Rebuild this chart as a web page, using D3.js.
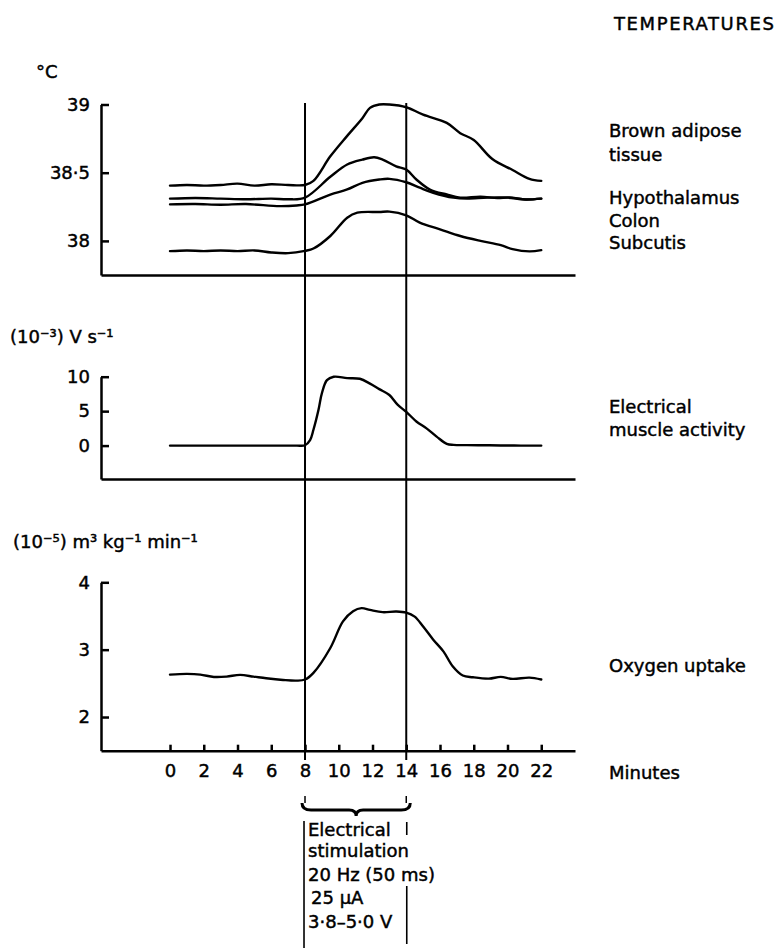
<!DOCTYPE html>
<html>
<head>
<meta charset="utf-8">
<script src="https://cdn.jsdelivr.net/npm/d3@7"></script>
<style>
  body { margin: 0; background: #fff; }
  text { font-family: "DejaVu Sans", sans-serif; font-size: 18px; fill: #000; stroke: #000; stroke-width: 0.45px; }
</style>
</head>
<body>
<div id="chart"></div>
<script>
// minutes, value pairs
var brownAdipose = [[0,38.405],[1,38.41],[2,38.405],[3,38.41],[4,38.42],[5,38.405],[6,38.415],[7,38.41],[8,38.41],[8.5,38.44],[9.5,38.62],[10.5,38.77],[11.4,38.9],[11.85,38.975],[12.4,39.0],[13,39.0],[14,38.98],[15,38.925],[16.4,38.865],[17.2,38.79],[18,38.74],[19.1,38.6],[20.3,38.52],[21.3,38.455],[22,38.44]];
var hypothalamus = [[0,38.31],[1.5,38.315],[3,38.31],[4.5,38.305],[6,38.31],[7,38.305],[8,38.317],[9.5,38.47],[10.5,38.56],[11.4,38.596],[12.1,38.613],[12.6,38.596],[13.4,38.547],[14,38.523],[14.6,38.45],[15.4,38.377],[16.4,38.34],[17.2,38.317],[18.4,38.324],[19.4,38.314],[20.1,38.319],[21.1,38.304],[22,38.31]];
var colon = [[0,38.268],[1.5,38.27],[3,38.265],[4.5,38.27],[6.5,38.255],[7.5,38.26],[8,38.268],[9.5,38.34],[10.5,38.377],[11.4,38.426],[12.4,38.45],[13,38.455],[14,38.43],[14.8,38.39],[15.6,38.353],[16.8,38.317],[17.6,38.31],[18.8,38.317],[20,38.317],[21,38.304],[22,38.31]];
var subcutis = [[0,37.925],[1,37.93],[2,37.925],[3,37.93],[4,37.925],[5,37.93],[6,37.915],[7,37.91],[8,37.927],[8.5,37.944],[9.5,38.036],[10.5,38.17],[11.1,38.207],[12.4,38.212],[13,38.215],[14,38.188],[14.8,38.134],[16,38.085],[17.2,38.036],[18.4,38.0],[19.6,37.969],[20.3,37.94],[21.3,37.923],[22,37.932]];
var muscleActivity = [[0,0],[2,0],[4,0],[6,0],[7.5,0],[8,0.05],[8.3,0.8],[8.5,2.3],[8.8,5.2],[9,7.6],[9.3,9.5],[9.7,10],[10.5,9.8],[11.25,9.7],[11.85,9.0],[12.4,8.2],[13,7.35],[13.5,5.9],[14,4.9],[14.6,3.5],[15.2,2.5],[15.8,1.3],[16.4,0.25],[16.8,0.1],[17.6,0.07],[18.6,0.05],[19.6,0.02],[20.8,0],[22,0]];
var oxygenUptake = [[0,2.63],[1,2.64],[1.8,2.63],[2.6,2.595],[3.35,2.6],[4.15,2.625],[4.95,2.6],[5.7,2.575],[6.7,2.55],[7.5,2.54],[8,2.557],[8.5,2.656],[9.5,3.025],[10.25,3.42],[10.85,3.57],[11.35,3.616],[11.85,3.59],[12.6,3.557],[13.4,3.566],[14,3.55],[14.5,3.49],[15,3.344],[15.6,3.148],[16.2,2.975],[16.75,2.754],[17.35,2.616],[17.95,2.59],[18.9,2.57],[19.6,2.596],[20.3,2.566],[21.3,2.585],[22,2.557]];

var minuteTicks = [0,2,4,6,8,10,12,14,16,18,20,22];
var tempTicks = [38, 38.5, 39];
var emgTicks = [0, 5, 10];
var oxyTicks = [2, 3, 4];
var stimulation = [8, 14];
var tempLabels = ["Brown adipose", "tissue", "Hypothalamus", "Colon", "Subcutis"];
var stimLabels = ["Electrical", "stimulation", "20 Hz (50 ms)", "25 \u00b5A", "3\u00b78\u20135\u00b70 V"];

var w = 780, h = 950;
var labelX = 609;

var svg = d3.select("#chart").append("svg")
    .attr("width", w)
    .attr("height", h)
    .attr("viewBox", [0, 0, w, h]);

var x = d3.scaleLinear().domain([-4.09, 24]).range([101, 575]);

// three stacked panels
var yTemp = d3.scaleLinear().domain([37.75, 39]).range([275, 104.5]);
var yEmg = d3.scaleLinear().domain([-4.85, 10]).range([479, 376.7]);
var yOxy = d3.scaleLinear().domain([1.5, 4]).range([750.7, 582.3]);

var dotFmt = d => String(d).replace(".", "\u00b7");

function styleAxis(g) {
    g.attr("font-family", null).attr("font-size", null);
    g.select(".domain").attr("stroke-width", 2.5);
    g.selectAll(".tick line").attr("stroke-width", 2.5);
}

function yAxis(scale, ticks) {
    svg.append("g")
        .attr("transform", "translate(101,0)")
        .call(d3.axisLeft(scale).tickValues(ticks).tickSize(-8).tickSizeOuter(0).tickPadding(11).tickFormat(dotFmt))
        .call(styleAxis);
}

function xAxis(yPos, ticks) {
    svg.append("g")
        .attr("transform", `translate(0,${yPos})`)
        .call(d3.axisBottom(x).tickValues(ticks).tickSize(-6).tickSizeOuter(0).tickPadding(14))
        .call(styleAxis);
}

yAxis(yTemp, tempTicks);
yAxis(yEmg, emgTicks);
yAxis(yOxy, oxyTicks);
xAxis(yTemp.range()[0], []);
xAxis(yEmg.range()[0], []);
xAxis(yOxy.range()[0], minuteTicks);

// stimulation period markers
svg.selectAll(".stim")
    .data(stimulation)
    .enter().append("line")
    .attr("class", "stim")
    .attr("x1", d => x(d)).attr("x2", d => x(d))
    .attr("y1", 103).attr("y2", 760)
    .attr("stroke", "#000").attr("stroke-width", 2);

function drawLine(data, yScale) {
    var line = d3.line()
        .x(d => x(d[0]))
        .y(d => yScale(d[1]))
        .curve(d3.curveCatmullRom.alpha(0.5));
    svg.append("path")
        .datum(data)
        .attr("d", line)
        .attr("fill", "none")
        .attr("stroke", "#000")
        .attr("stroke-width", 2.4)
        .attr("stroke-linejoin", "round")
        .attr("stroke-linecap", "round");
}

drawLine(brownAdipose, yTemp);
drawLine(hypothalamus, yTemp);
drawLine(colon, yTemp);
drawLine(subcutis, yTemp);
drawLine(muscleActivity, yEmg);
drawLine(oxygenUptake, yOxy);

// labels
svg.append("text").attr("x", 614).attr("y", 30).attr("letter-spacing", 1.6).text("TEMPERATURES");
svg.append("text").attr("x", 36).attr("y", 78).text("\u00b0C");
svg.append("text").attr("x", 10).attr("y", 343).text("(10\u207b\u00b3) V s\u207b\u00b9");
svg.append("text").attr("x", 13).attr("y", 548).text("(10\u207b\u2075) m\u00b3 kg\u207b\u00b9 min\u207b\u00b9");

var tempLabelY = [137, 161, 204, 227, 249];
svg.selectAll(".templabel")
    .data(tempLabels)
    .enter().append("text")
    .attr("class", "templabel")
    .attr("x", labelX)
    .attr("y", (d, i) => tempLabelY[i])
    .text(d => d);

svg.append("text").attr("x", labelX).attr("y", 413).text("Electrical");
svg.append("text").attr("x", labelX).attr("y", 436).text("muscle activity");
svg.append("text").attr("x", labelX).attr("y", 672).text("Oxygen uptake");
svg.append("text").attr("x", labelX).attr("y", 779).text("Minutes");

// brace under the stimulation period
var bx1 = x(stimulation[0]) - 3, bx2 = x(stimulation[1]) + 4, bm = (bx1 + bx2) / 2;
svg.selectAll(".stimtick")
    .data(stimulation)
    .enter().append("line")
    .attr("x1", d => x(d)).attr("x2", d => x(d))
    .attr("y1", 796).attr("y2", 803)
    .attr("stroke", "#000").attr("stroke-width", 1.5);
svg.append("path")
    .attr("d", `M${bx1},803 Q${bx1},810 ${bx1 + 9},810 L${bm - 7},810 Q${bm},810 ${bm},816 Q${bm},810 ${bm + 7},810 L${bx2 - 9},810 Q${bx2},810 ${bx2},803`)
    .attr("fill", "none").attr("stroke", "#000").attr("stroke-width", 3);

svg.append("line")
    .attr("x1", x(stimulation[0]) - 1).attr("x2", x(stimulation[0]) - 1)
    .attr("y1", 821).attr("y2", 948)
    .attr("stroke", "#000").attr("stroke-width", 1.6);
svg.append("line")
    .attr("x1", x(stimulation[1]) + 0.5).attr("x2", x(stimulation[1]) + 0.5)
    .attr("y1", 822).attr("y2", 835)
    .attr("stroke", "#000").attr("stroke-width", 1.6);
svg.append("line")
    .attr("x1", x(stimulation[1]) + 0.5).attr("x2", x(stimulation[1]) + 0.5)
    .attr("y1", 886).attr("y2", 944)
    .attr("stroke", "#000").attr("stroke-width", 1.6);

var stimLabelY = [836, 857, 881, 904, 928];
svg.selectAll(".stimlabel")
    .data(stimLabels)
    .enter().append("text")
    .attr("class", "stimlabel")
    .attr("x", (d, i) => i === 3 ? 311 : 308)
    .attr("y", (d, i) => stimLabelY[i])
    .text(d => d);
</script>
</body>
</html>
